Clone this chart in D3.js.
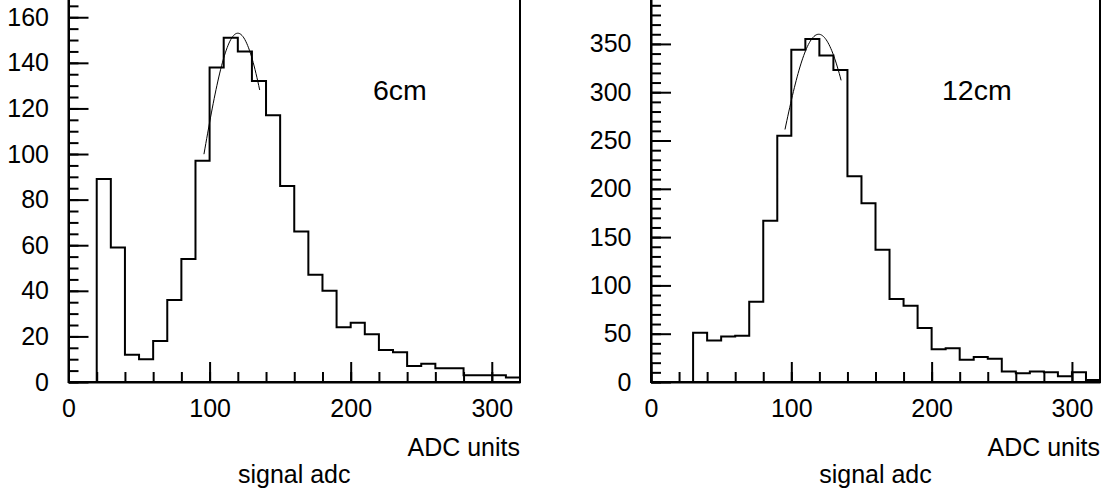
<!DOCTYPE html>
<html>
<head>
<meta charset="utf-8">
<script src="https://cdn.jsdelivr.net/npm/d3@7"></script>
<style>
  html, body { margin: 0; padding: 0; background: #fff; }
  svg { display: block; font-family: "Liberation Sans", Arial, Helvetica, sans-serif; }
</style>
</head>
<body>
<svg id="chart" width="1107" height="490"></svg>
<script>
// Lower edges of the 32 bins (10 ADC counts wide) from 0 to 320
const binLow = [0, 10, 20, 30, 40, 50, 60, 70, 80, 90, 100, 110, 120, 130, 140, 150,
                160, 170, 180, 190, 200, 210, 220, 230, 240, 250, 260, 270, 280, 290, 300, 310];
const binWidth = 10;
const xDomain = [0, 320];

// Entries per bin, 6 cm distance
const counts6cm = [0, 0, 89, 59, 12, 10, 18, 36, 54, 97, 138, 151, 145, 132, 117, 86,
                   66, 47, 40, 24, 26, 21, 14, 13, 7, 8, 6, 6, 3, 3, 3, 2];
// Entries per bin, 12 cm distance
const counts12cm = [0, 0, 0, 51, 43, 47, 48, 83, 167, 255, 344, 355, 338, 323, 213, 185,
                    137, 86, 79, 56, 34, 35, 23, 26, 24, 11, 9, 11, 10, 6, 10, 2];

// Gaussian fits over the peak region: [6 cm, 12 cm]
const fitConstant = [153, 360];
const fitMean = [120, 119.5];
const fitSigma = [26, 30];
const fitFrom = [96, 95.5];
const fitTo = [135.5, 135.5];

// Axis ticks
const xTicks = [0, 100, 200, 300];
const yTicks6cm = [0, 20, 40, 60, 80, 100, 120, 140, 160];
const yTicks12cm = [0, 50, 100, 150, 200, 250, 300, 350];

// Texts
const panelLabels = ["6cm", "12cm"];
const xTitle = "ADC units";
const histTitle = "signal adc";

const svg = d3.select("#chart");
const frameTop = -1, frameBottom = 382;
const labelSize = 25, panelLabelSize = 28.5;

const panels = [
  { counts: counts6cm, yMax: 168, yTicks: yTicks6cm, yMinorStep: 5, left: 68.5, right: 520, labelX: 373, fit: 0 },
  { counts: counts12cm, yMax: 396.5, yTicks: yTicks12cm, yMinorStep: 10, left: 651, right: 1100, labelX: 942, fit: 1 }
];

function styleAxis(sel) {
  sel.selectAll("path.domain").attr("stroke", "#000").attr("stroke-width", 2);
  sel.selectAll(".tick line").attr("stroke", "#000").attr("stroke-width", 2);
  sel.selectAll(".tick text").attr("fill", "#000").attr("font-size", labelSize)
     .attr("font-family", "\"Liberation Sans\", Arial, sans-serif");
}

panels.forEach((p, k) => {
  const x = d3.scaleLinear().domain(xDomain).range([p.left, p.right]);
  const y = d3.scaleLinear().domain([0, p.yMax]).range([frameBottom, frameTop]);
  const g = svg.append("g");

  // histogram outline as a step path
  const pts = [[xDomain[0], 0]];
  p.counts.forEach((c, i) => {
    pts.push([binLow[i], c]);
    pts.push([binLow[i] + binWidth, c]);
  });
  pts.push([xDomain[1], 0]);
  g.append("path")
    .attr("d", d3.line().x(d => x(d[0])).y(d => y(d[1]))(pts))
    .attr("fill", "none")
    .attr("stroke", "#000")
    .attr("stroke-width", 2)
    .attr("stroke-linejoin", "miter");

  // gaussian fit curve
  const f = p.fit;
  const gaus = v => fitConstant[f] * Math.exp(-0.5 * Math.pow((v - fitMean[f]) / fitSigma[f], 2));
  const samples = d3.range(0, 61).map(i => fitFrom[f] + (fitTo[f] - fitFrom[f]) * i / 60);
  g.append("path")
    .attr("d", d3.line().x(v => x(v)).y(v => y(gaus(v)))(samples))
    .attr("fill", "none")
    .attr("stroke", "#000")
    .attr("stroke-width", 1);

  // frame
  g.append("rect")
    .attr("x", p.left).attr("y", frameTop)
    .attr("width", p.right - p.left).attr("height", frameBottom - frameTop)
    .attr("fill", "none").attr("stroke", "#000").attr("stroke-width", 2);

  // y axis: minor and major ticks pointing inside
  const yMinor = d3.range(0, p.yMax, p.yMinorStep);
  const yMin = g.append("g").attr("transform", `translate(${p.left},0)`)
    .call(d3.axisLeft(y).tickValues(yMinor).tickSize(-10).tickSizeOuter(0).tickFormat(""));
  yMin.select("path.domain").remove();
  styleAxis(yMin);
  const yAx = g.append("g").attr("transform", `translate(${p.left},0)`)
    .call(d3.axisLeft(y).tickValues(p.yTicks).tickSize(-20).tickSizeOuter(0).tickPadding(19.5));
  styleAxis(yAx);

  // x axis
  const xMinor = d3.range(xDomain[0], xDomain[1], 20);
  const xMin = g.append("g").attr("transform", `translate(0,${frameBottom})`)
    .call(d3.axisBottom(x).tickValues(xMinor).tickSize(-10).tickSizeOuter(0).tickFormat(""));
  xMin.select("path.domain").remove();
  styleAxis(xMin);
  const xAx = g.append("g").attr("transform", `translate(0,${frameBottom})`)
    .call(d3.axisBottom(x).tickValues(xTicks).tickSize(-20).tickSizeOuter(0).tickPadding(17));
  styleAxis(xAx);

  // texts
  g.append("text")
    .attr("x", p.labelX).attr("y", 100)
    .attr("font-size", panelLabelSize).attr("fill", "#000")
    .text(panelLabels[k]);
  g.append("text")
    .attr("x", p.right).attr("y", 456)
    .attr("text-anchor", "end")
    .attr("font-size", labelSize).attr("fill", "#000")
    .text(xTitle);
  g.append("text")
    .attr("x", (p.left + p.right) / 2).attr("y", 483)
    .attr("text-anchor", "middle")
    .attr("font-size", labelSize).attr("fill", "#000")
    .text(histTitle);
});
</script>
</body>
</html>
